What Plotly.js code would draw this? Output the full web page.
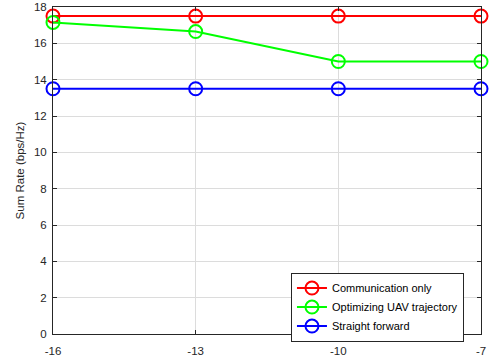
<!DOCTYPE html>
<html>
<head>
<meta charset="utf-8">
<script src="https://cdn.plot.ly/plotly-3.0.1.min.js"></script>
<style>html,body{margin:0;padding:0;background:#fff;}#chart{width:491px;height:360px;}</style>
</head>
<body>
<div id="chart"></div>
<script>
const xValues = [-16, -13, -10, -7];
const commOnly = [17.5, 17.5, 17.5, 17.5];
const optTraj = [17.15, 16.65, 15.0, 15.0];
const straight = [13.5, 13.5, 13.5, 13.5];
const seriesNames = ['Communication only', 'Optimizing UAV trajectory', 'Straight forward'];
const seriesColors = ['#ff0000', '#00ff00', '#0000ff'];
const yTicks = [0, 2, 4, 6, 8, 10, 12, 14, 16, 18];

const allY = [commOnly, optTraj, straight];
const traces = allY.map((ys, i) => ({
  x: xValues, y: ys, name: seriesNames[i], type: 'scatter', mode: 'lines+markers',
  line: {color: seriesColors[i], width: 2},
  marker: {symbol: 'circle-open', size: 13, color: seriesColors[i], line: {width: 2, color: seriesColors[i]}},
  cliponaxis: false
}));

const fontFam = 'Liberation Sans, Arial, sans-serif';
const axisCommon = {
  showline: true, linecolor: '#262626', linewidth: 1, mirror: 'ticks',
  ticks: 'inside', ticklen: 4, tickcolor: '#262626',
  showgrid: true, gridcolor: '#dcdcdc', gridwidth: 1, zeroline: false,
  tickfont: {family: fontFam, size: 11.5, color: '#262626'}
};

const layout = {
  width: 491, height: 360,
  margin: {l: 53, r: 10, t: 7, b: 26},
  paper_bgcolor: '#fff', plot_bgcolor: '#fff',
  showlegend: true,
  xaxis: Object.assign({}, axisCommon, {range: [-16, -7], tickvals: xValues, ticktext: xValues.map(String), ticklabelstandoff: 6}),
  yaxis: Object.assign({}, axisCommon, {range: [0, 18], tickvals: yTicks, ticklabelstandoff: 3,
    title: {text: 'Sum Rate (bps/Hz)', standoff: 6, font: {family: fontFam, size: 11.5, color: '#262626'}}}),
  legend: {x: 0.556, y: 0.188, xanchor: 'left', yanchor: 'top', bgcolor: '#fff',
    bordercolor: '#262626', borderwidth: 1, tracegroupgap: 0, itemwidth: 30,
    font: {family: fontFam, size: 11, color: '#000'}}
};

Plotly.newPlot('chart', traces, layout, {displayModeBar: false, staticPlot: true});
</script>
</body>
</html>
